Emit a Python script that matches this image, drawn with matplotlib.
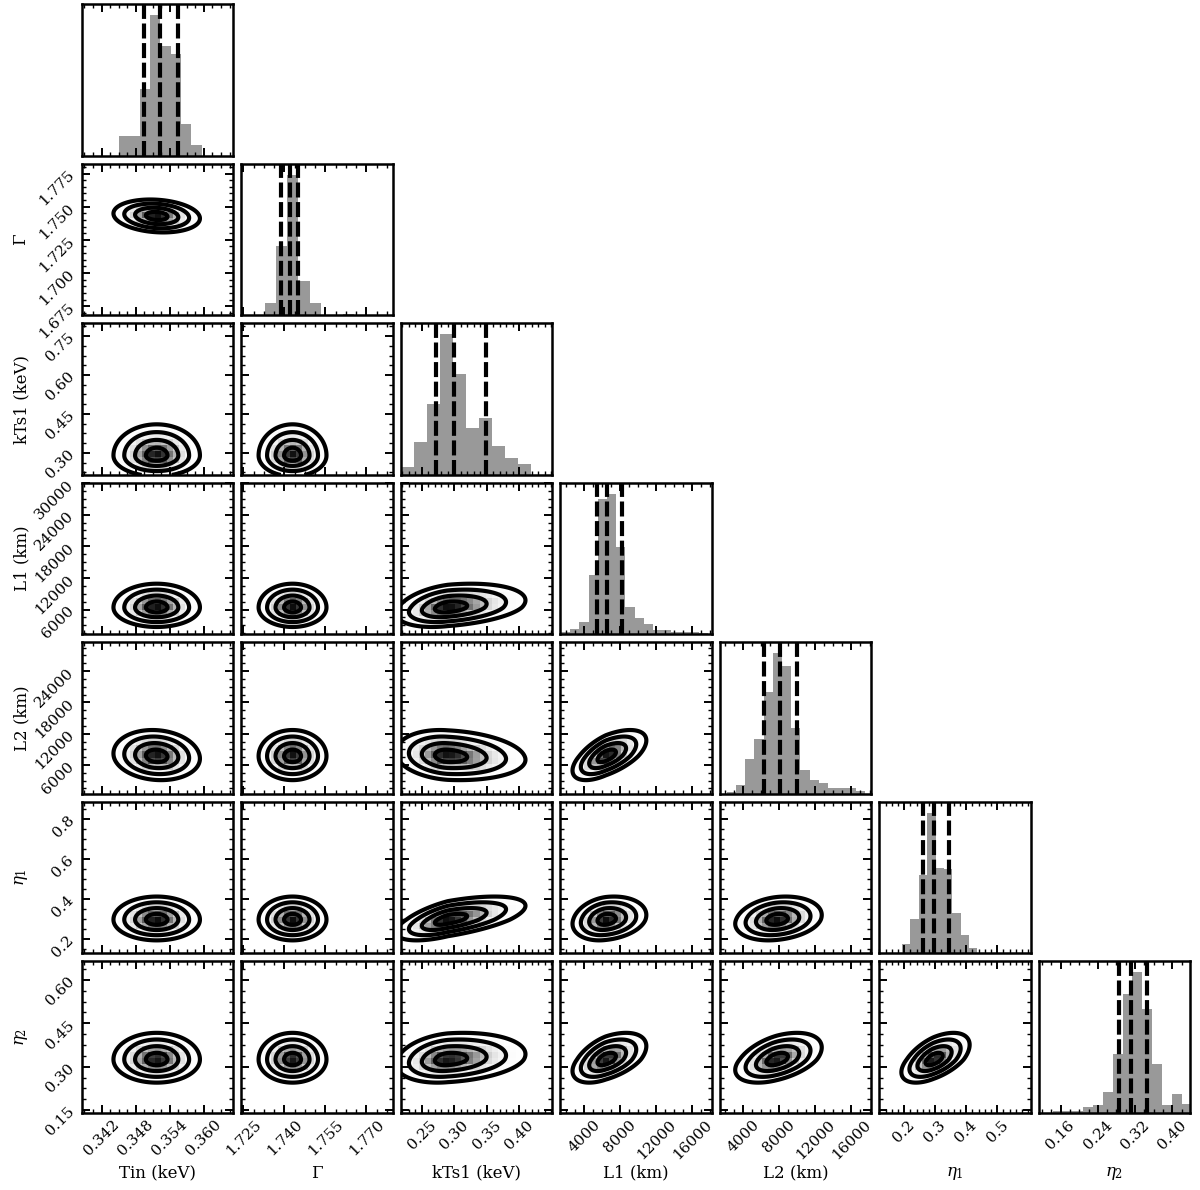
import numpy as np
import matplotlib
matplotlib.use("Agg")
import matplotlib.pyplot as plt
from matplotlib.ticker import FixedLocator, FormatStrFormatter, AutoMinorLocator
from matplotlib.colors import LinearSegmentedColormap

plt.rcParams['font.family'] = ['DejaVu Serif']
plt.rcParams['mathtext.fontset'] = 'dejavuserif'

labels = ['Tin (keV)', r'$\Gamma$', 'kTs1 (keV)', 'L1 (km)', 'L2 (km)', r'$\eta_1$', r'$\eta_2$']

# 1D histograms (bin start, bin width, counts)
hist_start = [0.3451, 1.7328, 0.2186, 1426, 2181, 0.1935, 0.1425]
hist_width = [0.00181, 0.0041, 0.0200, 1021, 1019, 0.0269, 0.0215]
hist_tin = [126, 130, 435, 910, 710, 660, 205, 73]
hist_gamma = [84, 470, 945, 234, 84, 0, 5, 8]
hist_kts1 = [55, 215, 468, 930, 670, 310, 380, 190, 110, 73]
hist_l1 = [15, 37, 80, 390, 880, 915, 566, 180, 104, 70, 30, 30, 15, 15, 15, 10]
hist_l2 = [15, 60, 230, 357, 665, 920, 840, 430, 160, 90, 75, 40, 40, 40, 20]
hist_eta1 = [60, 230, 520, 934, 570, 560, 267, 125, 37]
hist_eta2 = [10, 10, 15, 40, 50, 136, 385, 780, 923, 680, 320, 55, 128, 60]
hists = [hist_tin, hist_gamma, hist_kts1, hist_l1, hist_l2, hist_eta1, hist_eta2]

# 16/50/84 percent quantiles (dashed lines)
q16 = [0.3495, 1.7389, 0.2724, 5385, 6254, 0.2616, 0.2847]
q50 = [0.3523, 1.7420, 0.2990, 6533, 8094, 0.2957, 0.3119]
q84 = [0.3555, 1.7450, 0.3493, 8161, 9933, 0.3446, 0.3455]

# 2D posterior shape: mode and lower/upper widths of each parameter
mode = [0.3517, 1.7430, 0.290, 6400, 7700, 0.295, 0.325]
s_lo = [0.0038, 0.0062, 0.040, 1850, 2300, 0.052, 0.040]
s_hi = [0.0038, 0.0062, 0.060, 2250, 2500, 0.058, 0.046]
# correlation between parameters (row, col)
rho_pairs = {(1, 0): -0.15, (2, 0): 0.0, (3, 0): 0.0, (4, 0): -0.1, (5, 0): 0.0, (6, 0): 0.0,
             (2, 1): 0.0, (3, 1): 0.0, (4, 1): 0.0, (5, 1): 0.0, (6, 1): 0.0,
             (3, 2): 0.3, (4, 2): -0.15, (5, 2): 0.6, (6, 2): 0.2,
             (4, 3): 0.6, (5, 3): 0.2, (6, 3): 0.5,
             (5, 4): 0.2, (6, 4): 0.45,
             (6, 5): 0.55}

# axis ranges
x_lims = [(0.3385, 0.3652), (1.7242, 1.7797), (0.2171, 0.4517), (1315, 18190),
          (1359, 18214), (0.119, 0.6085), (0.1124, 0.439)]
y_lims = [None, (1.668, 1.7825), (0.215, 0.80), (1275, 30075), (440, 29560),
          (0.125, 0.888), (0.14, 0.665)]
x_ticks = [[0.342, 0.348, 0.354, 0.360], [1.725, 1.740, 1.755, 1.770], [0.25, 0.30, 0.35, 0.40],
           [4000, 8000, 12000, 16000], [4000, 8000, 12000, 16000], [0.2, 0.3, 0.4, 0.5],
           [0.16, 0.24, 0.32, 0.40]]
y_ticks = [None, [1.675, 1.700, 1.725, 1.750, 1.775], [0.30, 0.45, 0.60, 0.75],
           [6000, 12000, 18000, 24000, 30000], [6000, 12000, 18000, 24000],
           [0.2, 0.4, 0.6, 0.8], [0.15, 0.30, 0.45, 0.60]]
fmts = ['%.3f', '%.3f', '%.2f', '%d', '%d', '%.1f', '%.2f']

n = len(labels)
levels = np.exp(-0.5 * np.array([2.0, 1.5, 1.0, 0.5]) ** 2)
dens_cmap = LinearSegmentedColormap.from_list('dens', ['white', 'black'])


def split_norm(v, k):
    return np.where(v < mode[k], (v - mode[k]) / s_lo[k], (v - mode[k]) / s_hi[k])


def density(xg, yg, j, i):
    u = split_norm(xg, j)
    v = split_norm(yg, i)
    r = rho_pairs[(i, j)]
    return np.exp(-0.5 * (u * u - 2 * r * u * v + v * v) / (1 - r * r))


def style(ax):
    ax.tick_params(which='both', direction='in', top=True, right=True)
    ax.tick_params(which='major', length=6, width=1.4, labelsize=11)
    ax.tick_params(which='minor', length=3, width=1.0)
    for s in ax.spines.values():
        s.set_linewidth(1.8)


fig, axes = plt.subplots(n, n, figsize=(12, 11.9), dpi=100)
fig.subplots_adjust(left=0.068, right=0.992, bottom=0.0647, top=0.9966,
                    wspace=0.05, hspace=0.05)

for i in range(n):
    for j in range(n):
        ax = axes[i, j]
        if j > i:
            ax.set_visible(False)
            continue
        style(ax)
        ax.set_xlim(x_lims[j])
        ax.xaxis.set_major_locator(FixedLocator(x_ticks[j]))
        ax.xaxis.set_minor_locator(AutoMinorLocator())
        ax.xaxis.set_major_formatter(FormatStrFormatter(fmts[j]))

        if i == j:
            counts = np.array(hists[i], dtype=float)
            edges = hist_start[i] + hist_width[i] * np.arange(len(counts) + 1)
            ax.stairs(counts, edges, fill=True, color='#999999', lw=0)
            for q in (q16[i], q50[i], q84[i]):
                ax.axvline(q, color='k', lw=3.0, ls=(0, (3.6, 1.1)))
            ax.set_ylim(0, counts.max() * 1.08)
            ax.set_yticks([])
            ax.tick_params(which='both', left=False, right=False)
        else:
            ax.set_ylim(y_lims[i])
            ax.yaxis.set_major_locator(FixedLocator(y_ticks[i]))
            ax.yaxis.set_minor_locator(AutoMinorLocator())
            ax.yaxis.set_major_formatter(FormatStrFormatter(fmts[i]))
            # coarse density shading, weighted toward the peak
            xb = np.linspace(*x_lims[j], 26)
            yb = np.linspace(*y_lims[i], 26)
            xc, yc = np.meshgrid(0.5 * (xb[1:] + xb[:-1]), 0.5 * (yb[1:] + yb[:-1]))
            ax.pcolormesh(xb, yb, density(xc, yc, j, i) ** 3, cmap=dens_cmap,
                          vmin=0, vmax=1.05, shading='flat', rasterized=True)
            xf, yf = np.meshgrid(np.linspace(*x_lims[j], 300), np.linspace(*y_lims[i], 300))
            zf = density(xf, yf, j, i)
            ax.contourf(xf, yf, zf, levels=[0, levels[0]], colors='white')
            ax.contour(xf, yf, zf, levels=levels, colors='k', linewidths=3.0)

        if i == n - 1:
            for t in ax.get_xticklabels():
                t.set_rotation(45)
            ax.set_xlabel(labels[j], fontsize=12)
            ax.xaxis.set_label_coords(0.5, -0.34)
        else:
            ax.set_xticklabels([])
        if j == 0 and i > 0:
            for t in ax.get_yticklabels():
                t.set_rotation(45)
            ax.set_ylabel(labels[i], fontsize=12)
            ax.yaxis.set_label_coords(-0.34, 0.5)
        elif i != j:
            ax.set_yticklabels([])

fig.savefig('out.png', dpi=100)
